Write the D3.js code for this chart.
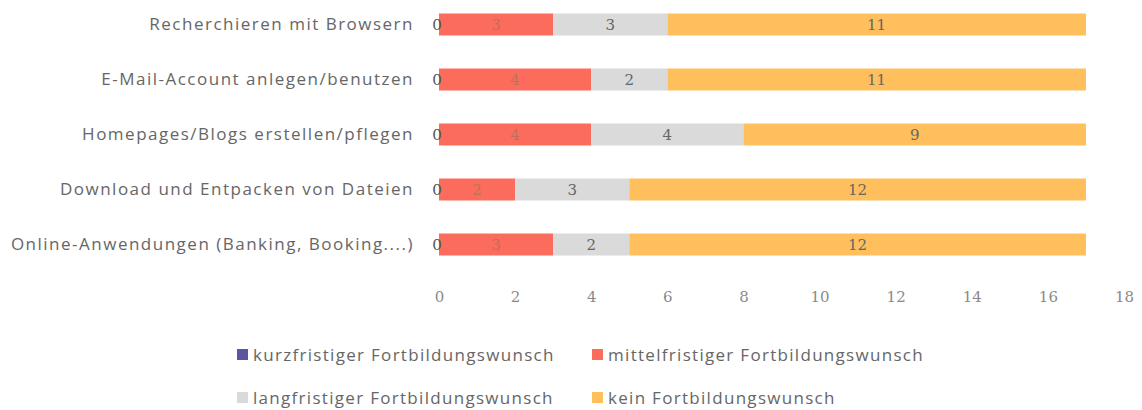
<!DOCTYPE html>
<meta charset="utf-8">
<style>
body { margin: 0; background: #fff; }
#xAxis path, #xAxis line { display: none }
#xAxis text { font-size: 15px; font-family: "DejaVu Serif", serif; fill: #8a8a8a; }
#yAxis path, #yAxis line { display: none }
#yAxis text { font-size: 17px; letter-spacing: 1.5px; font-family: "Open Sans", sans-serif; fill: #666; }
</style>
<html>
<body>
<div id="my_dataviz"></div>
<script src="https://d3js.org/d3.v7.min.js"></script>
<script>
var categories = ["Recherchieren mit Browsern", "E-Mail-Account anlegen/benutzen",
  "Homepages/Blogs erstellen/pflegen", "Download und Entpacken von Dateien",
  "Online-Anwendungen (Banking, Booking....)"];
var seriesNames = ["kurzfristiger Fortbildungswunsch", "mittelfristiger Fortbildungswunsch",
  "langfristiger Fortbildungswunsch", "kein Fortbildungswunsch"];
var kurz   = [0, 0, 0, 0, 0];
var mittel = [3, 4, 4, 2, 3];
var lang   = [3, 2, 4, 3, 2];
var kein   = [11, 11, 9, 12, 12];
var xTicks = [0, 2, 4, 6, 8, 10, 12, 14, 16, 18];

var colors = ["#5b55a3", "#fb6c5c", "#dadada", "#ffbf5c"];
var labelColors = ["#555", "#c0705a", "#666", "#666"];

var width = 1142, height = 410;

var svg = d3.select("#my_dataviz").append("svg")
  .attr("width", width).attr("height", height);

var x = d3.scaleLinear().domain([0, 18]).range([439, 1124]);
var y = d3.scaleBand().domain(categories).range([-3, 272]).paddingInner(0.6).paddingOuter(0.3);

var table = categories.map(function(c, i) {
  return {cat: c, s0: kurz[i], s1: mittel[i], s2: lang[i], s3: kein[i]};
});
var stack = d3.stack().keys(["s0", "s1", "s2", "s3"])(table);

var groups = svg.selectAll("g.series").data(stack).enter().append("g")
  .attr("class", "series")
  .attr("fill", function(d, i) { return colors[i]; });

groups.selectAll("rect").data(function(d) { return d; }).enter().append("rect")
  .attr("x", function(d) { return x(d[0]); })
  .attr("y", function(d) { return y(d.data.cat); })
  .attr("width", function(d) { return Math.max(0, x(d[1]) - x(d[0])); })
  .attr("height", y.bandwidth());

// value labels
stack.forEach(function(s, i) {
  svg.append("g").selectAll("text").data(s).enter().append("text")
    .attr("x", function(d) { return i === 0 ? x(0) - 2 : (x(d[0]) + x(d[1])) / 2; })
    .attr("y", function(d) { return y(d.data.cat) + y.bandwidth() / 2; })
    .attr("dy", "0.35em")
    .attr("text-anchor", "middle")
    .style("font-family", "\"DejaVu Serif\", serif")
    .style("font-size", "15px")
    .style("fill", labelColors[i])
    .text(function(d) { return d[1] - d[0]; });
});

svg.append("g").attr("id", "yAxis")
  .attr("transform", "translate(414,0)")
  .call(d3.axisLeft(y).tickSize(0).tickPadding(0));

svg.append("g").attr("id", "xAxis")
  .attr("transform", "translate(0,291)")
  .call(d3.axisBottom(x).tickValues(xTicks).tickSize(0).tickPadding(0));

// legend
var legendPos = [[237, 355], [592, 355], [237, 398], [592, 398]];
seriesNames.forEach(function(n, i) {
  svg.append("rect").attr("x", legendPos[i][0]).attr("y", legendPos[i][1] - 6)
    .attr("width", 11).attr("height", 11).attr("fill", colors[i]);
  svg.append("text").attr("x", legendPos[i][0] + 16).attr("y", legendPos[i][1])
    .attr("dy", "0.35em")
    .style("font-family", "\"Open Sans\", sans-serif").style("font-size", "17px")
    .style("letter-spacing", "1.3px")
    .style("fill", "#666").text(n);
});
</script>
</body>
</html>
